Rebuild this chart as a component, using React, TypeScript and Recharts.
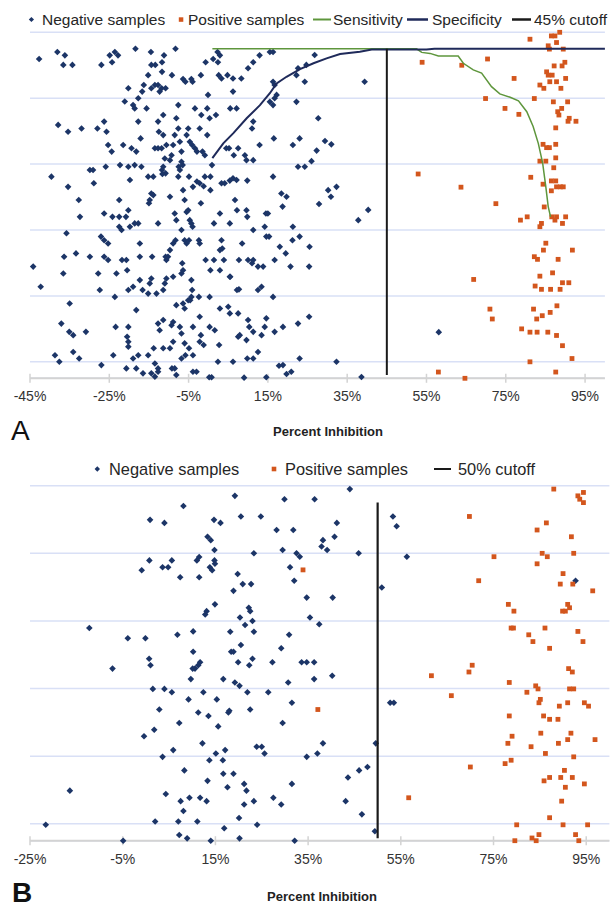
import React from 'react';
import { ScatterChart, Scatter, XAxis, YAxis, CartesianGrid } from 'recharts';

type P = [number, number];
const FONT = '"Liberation Sans", Arial, Helvetica, sans-serif';

const aTicks = [-45, -25, -5, 15, 35, 55, 75, 95];
const bTicks = [-25, -5, 15, 35, 55, 75, 95];
const gridTicks = [5, 25, 45, 65, 85, 105];

const aNegative: P[] = [
  [-42.7,96.9],[-38.1,99.0],[-36.2,98.0],[-36.6,95.1],[-34.3,95.1],[-27.0,95.1],[-24.9,98.0],[-23.6,99.0],[-22.8,98.0],[-24.3,95.9],[-18.4,100.0],[-14.5,99.0],[-14.4,95.1],[-13.4,95.1],[-11.7,95.9],[-11.2,98.0],[-8.3,100.0],[-9.2,92.0],[-15.2,92.0],[-13.5,89.0],[-14.4,88.0],[-12.7,89.0],[-11.8,88.0],[-10.8,88.0],[-12.3,87.0],[-11.7,93.0],[-16.3,89.0],[-16.7,87.0],[-20.2,88.0],[-6.4,90.8],[-5.8,90.0],[-4.3,90.8],[-4.0,90.0],[-1.9,92.0],[-0.7,95.9],[1.2,96.9],[2.4,95.9],[2.3,99.0],[2.9,98.0],[2.6,92.0],[3.3,91.0],[4.8,92.0],[6.2,91.0],[8.3,91.0],[6.2,87.0],[10.0,94.1],[11.3,95.9],[12.9,98.0],[15.5,99.0],[16.3,99.0],[16.3,90.0],[16.7,89.0],[24.3,90.0],[22.2,92.0],[22.6,94.1],[24.7,95.1],[-0.1,86.0],
  [-17.7,85.0],[-21.1,84.0],[-19.0,82.9],[-18.6,81.9],[-15.6,81.9],[-11.4,79.9],[-7.6,82.9],[-8.1,78.9],[-12.7,77.9],[-3.4,81.9],[-0.3,81.9],[0.3,78.9],[1.9,79.9],[-1.8,79.9],[5.5,81.9],[7.1,81.9],[11.3,77.9],[11.0,75.8],[15.5,83.9],[16.7,85.0],[17.2,86.0],[16.3,82.9],[22.2,83.9],
  [-37.9,76.9],[-35.4,74.8],[-32.0,75.8],[-28.0,75.8],[-26.3,77.9],[-25.7,74.8],[-25.3,70.8],[-24.4,68.8],[-21.5,70.8],[-19.4,69.8],[-18.2,68.8],[-17.7,77.9],[-17.1,72.8],[-13.5,69.8],[-12.7,69.8],[-11.8,69.8],[-12.5,74.8],[-11.4,73.8],[-10.6,70.8],[-11.0,66.7],[-9.7,66.2],[-9.3,67.7],[-8.9,70.8],[-8.5,73.8],[-7.6,75.8],[-7.2,71.8],[-6.8,68.8],[-5.5,73.8],[-5.1,75.8],[-4.7,71.8],[-4.1,70.8],[-3.4,69.8],[-2.9,68.8],[-2.2,75.8],[-0.9,67.7],[-0.3,73.8],[-1.5,68.8],[4.5,69.8],[5.2,69.8],[7.5,69.8],[9.2,67.7],[9.6,66.2],[11.3,66.2],[12.9,70.8],[16.5,72.8],[21.3,70.8],[23.0,72.8],[6.4,67.7],
  [-22.3,64.7],[-20.2,64.2],[-18.6,64.7],[-16.9,64.2],[-15.2,61.2],[-13.9,61.2],[-11.4,64.2],[-11.7,63.2],[-11.6,62.0],[-10.8,62.2],[-7.5,64.2],[-7.2,63.2],[-6.5,64.7],[-7.6,61.2],[-6.8,65.7],[-4.9,61.2],[-3.9,58.1],[-2.9,59.7],[-2.2,59.2],[-0.9,61.2],[-1.2,58.3],[0.5,61.2],[0.5,57.1],[0.9,64.7],[3.3,59.2],[4.1,59.2],[5.4,60.0],[6.2,60.7],[7.1,60.2],[9.8,60.0],[16.3,61.2],[22.6,64.2],[24.3,64.2],[-39.6,61.2],[-35.4,58.1],[-29.9,63.2],[-29.1,63.2],[-28.9,59.2],[-25.9,64.2],[-19.8,60.2],
  [-32.7,54.1],[-32.4,49.0],[-26.3,50.0],[-24.2,49.0],[-22.5,54.1],[-22.5,49.0],[-20.8,49.0],[-20.2,51.0],[-17.7,47.0],[-14.4,56.1],[-13.9,55.6],[-14.8,54.1],[-15.0,53.1],[-12.7,47.0],[-9.7,55.1],[-8.5,50.0],[-8.1,48.0],[-6.4,57.1],[-6.0,54.1],[-5.5,50.5],[-5.1,51.0],[-4.7,48.0],[-4.3,47.0],[-4.0,46.0],[-1.9,53.1],[1.4,47.0],[2.9,50.0],[5.4,47.0],[7.2,51.0],[6.7,54.1],[9.6,51.0],[9.8,49.0],[11.3,45.0],[14.5,50.0],[15.0,50.0],[14.2,46.0],[18.4,56.1],[19.7,55.1],[18.7,52.1],[21.3,46.0],
  [-35.8,44.0],[-36.4,36.9],[-33.4,37.9],[-29.9,36.9],[-27.1,43.0],[-26.3,41.9],[-25.3,40.9],[-26.3,36.9],[-25.3,35.9],[-21.8,35.9],[-20.7,35.9],[-22.5,46.0],[-21.9,45.0],[-19.8,46.0],[-18.6,47.0],[-17.3,40.9],[-17.3,36.9],[-14.2,36.9],[-10.8,36.9],[-10.6,35.9],[-10.2,36.9],[-9.7,38.9],[-8.9,40.9],[-8.3,41.9],[-6.8,45.0],[-6.0,41.9],[-5.5,40.9],[-4.9,41.9],[-2.4,41.9],[-2.2,40.9],[-0.7,35.9],[0.5,32.8],[1.4,35.9],[2.9,32.8],[3.3,41.9],[3.5,39.4],[2.9,38.9],[3.9,35.9],[5.5,30.8],[7.7,35.9],[8.5,40.9],[10.0,35.9],[11.0,34.9],[11.3,35.9],[12.5,33.9],[13.8,33.9],[14.6,43.0],[15.3,43.0],[16.7,35.9],[18.0,39.9],[19.5,37.9],[20.7,33.9],[21.2,41.9],[23.0,43.0],[-44.2,33.9],[-36.6,31.8],[25.5,39.9],[25.4,33.9],
  [-42.3,27.8],[-27.8,31.8],[-27.4,26.8],[-23.6,24.7],[-23.2,31.8],[-20.5,32.8],[-20.2,26.8],[-19.0,27.8],[-17.3,29.8],[-16.6,26.8],[-15.2,25.7],[-14.8,28.8],[-14.4,30.3],[-13.1,25.7],[-11.4,26.8],[-11.0,28.8],[-10.6,30.3],[-8.9,30.8],[-6.8,31.8],[-6.6,34.9],[-6.4,32.8],[-4.3,29.8],[-4.1,26.8],[-4.3,24.7],[-2.4,24.7],[0.3,24.7],[7.2,26.8],[7.7,27.0],[12.5,26.8],[13.4,27.8],[16.3,24.7],[5.4,30.8],
  [-35.0,22.7],[-37.1,16.6],[-35.1,14.1],[-34.1,13.1],[-30.9,14.1],[-23.4,15.6],[-20.2,15.6],[-18.2,20.7],[-12.7,16.6],[-12.3,14.6],[-11.4,17.7],[-9.3,16.1],[-8.9,17.1],[-7.2,15.6],[-6.8,13.6],[-8.1,22.2],[-6.4,22.7],[-6.0,21.2],[-5.1,23.7],[-4.6,23.7],[-3.9,15.6],[-2.2,18.7],[-1.9,13.1],[0.3,15.6],[1.6,14.6],[2.9,21.2],[5.0,21.7],[5.4,19.7],[7.5,19.7],[7.5,12.6],[7.9,13.1],[9.6,11.6],[10.0,17.7],[10.3,15.6],[11.3,14.1],[14.2,15.6],[14.6,18.2],[16.7,14.1],[18.8,15.6],[22.6,16.6],[25.4,18.7],
  [-38.7,7.0],[-37.6,5.0],[-34.1,8.0],[-32.6,6.0],[-27.0,4.0],[-24.0,7.0],[-20.5,12.6],[-20.2,11.1],[-20.2,9.6],[-19.0,6.0],[-17.7,7.0],[-15.2,7.0],[-13.8,9.1],[-13.5,4.5],[-12.7,3.0],[-11.4,9.1],[-12.7,2.0],[-8.9,11.1],[-9.7,9.1],[-9.2,3.0],[-8.5,3.0],[-8.1,1.0],[-6.8,6.0],[-6.0,10.6],[-5.8,7.0],[-4.9,9.1],[-3.9,7.0],[-3.9,2.0],[-3.0,2.0],[-2.2,11.1],[-1.2,10.1],[0.2,0.3],[0.8,0.3],[2.4,5.0],[2.7,10.1],[6.2,5.0],[9.8,6.0],[11.3,6.0],[12.5,8.0],[13.4,13.1],[14.6,0.3],[18.8,4.0],[20.9,2.0],[23.0,6.0],[-18.2,3.0],[-16.5,1.5],[-20.7,3.0],[-14.4,1.5],[-13.5,0.5],
  [26.8,98.1],[39.4,90.0],[27.7,78.9],[29.4,72.0],[31.0,71.0],[27.3,69.1],[26.0,65.9],[27.9,52.9],[30.2,57.1],[32.3,58.1],[30.9,55.1],[37.8,48.0],[40.3,51.1],[58.1,14.0],
  [38.6,0.4],[32.3,5.0],[17.8,3.8],[19.7,1.3],[9.0,0.2],
];

const aPositive: P[] = [
  [81.1,102.9],[86.5,103.9],[87.4,103.9],[88.6,105.0],[87.8,101.9],[85.7,100.9],[86.0,99.9],[89.5,99.9],[53.9,95.9],[63.9,95.0],[70.4,96.9],[77.1,91.0],[83.6,89.0],[84.6,88.0],[85.3,93.0],[85.7,92.0],[86.7,92.0],[86.1,90.0],[87.8,90.0],[87.2,94.8],[89.2,94.8],[89.9,95.9],[90.1,91.0],[88.9,88.0],[69.9,84.9],[82.2,84.9],[87.0,83.9],[90.6,83.9],[74.8,81.9],[78.3,80.1],[89.1,81.9],[88.1,80.9],[88.4,79.9],[91.0,78.9],[90.7,78.0],[92.7,78.0],[87.6,76.0],[84.4,71.0],[85.3,70.0],[86.0,70.0],[87.6,71.0],[83.6,65.9],[85.1,65.9],[87.6,66.9],[87.1,63.9],[52.9,62.0],[63.7,58.0],[72.5,53.0],[81.3,61.0],[84.4,58.9],[86.5,59.9],[87.6,59.9],[87.8,58.1],[88.8,58.1],[89.5,58.1],[86.5,56.9],[84.7,52.0],
  [80.4,49.0],[78.7,48.0],[86.6,49.0],[87.8,49.0],[90.1,49.0],[87.4,48.0],[89.3,47.0],[84.0,47.0],[83.6,46.0],[85.1,41.0],[84.5,38.9],[91.8,38.9],[82.2,36.9],[83.0,36.1],[88.2,36.1],[86.8,32.0],[66.9,30.0],[83.6,31.0],[89.3,29.0],[90.9,29.0],[82.4,28.0],[84.0,27.0],[86.3,27.0],[88.7,27.0],[71.0,21.0],[71.6,18.0],[82.0,21.0],[82.8,18.0],[84.2,19.0],[86.2,20.0],[87.9,22.0],[79.0,15.0],[81.1,14.0],[82.9,14.0],[85.6,14.0],[87.8,13.0],[89.3,9.9],[91.7,6.0],[81.1,5.0],[58.0,1.9],[64.7,0.0],[87.6,1.9],
];

const aSensitivity: P[] = [
  [1.0,100],[52.5,100],[53.8,98.9],[55.9,98.6],[58.0,97.8],[63.0,97.8],[64.3,95.6],[66.8,93.6],[68.9,92.6],[71.4,88.5],[73.5,86.3],[76.1,85.3],[78.2,84.2],[80.3,80.9],[81.9,76.4],[83.2,71.3],[84.3,65.3],[85.1,58.1],[85.7,52.1],[86.3,49.0],
];
const aSpecificity: P[] = [
  [1.0,66.8],[3.75,71.3],[6.3,74.4],[9.65,78.9],[13.0,82.9],[15.5,86.5],[17.2,89.5],[19.7,91.5],[23.1,93.8],[26.5,95.6],[29.8,97.1],[33.2,98.4],[38.2,99.1],[41.2,99.8],[55.0,99.8],[57.0,100],[100,100],
];
const aCutoff: P[] = [[45, 1], [45, 100]];

const bNegative: P[] = [
  [19.2,102.0],[29.9,101.0],[8.1,99.0],[0.9,94.9],[4.0,94.0],[14.7,94.9],[16.1,94.0],[20.5,95.9],[24.8,95.9],[28.2,91.9],[31.8,91.9],[13.3,89.9],[14.0,88.9],[14.8,86.0],[23.3,85.0],[29.5,86.0],[32.5,85.0],[33.2,84.0],[31.1,80.9],[32.0,76.9],[0.75,82.9],[-0.9,80.0],[3.6,80.9],[4.8,80.9],[5.6,82.9],[7.4,77.9],[11.0,82.9],[11.5,83.9],[11.5,77.9],[14.8,82.9],[14.9,81.9],[13.8,80.9],[14.3,80.0],[19.8,78.9],[20.9,75.9],[22.7,75.9],[18.9,73.9],[14.9,69.9],[13.1,67.9],[12.8,66.9],[20.3,66.0],[21.4,63.8],[22.2,68.9],[22.5,67.9],[23.0,65.0],[23.3,61.8],[18.2,61.8],[20.5,57.9],[18.4,55.9],[18.9,55.9],[19.9,52.8],[23.0,53.8],[22.3,51.9],[27.3,52.8],[29.2,56.9],[30.9,60.9],[34.7,71.9],[35.4,66.0],[33.6,52.8],[34.7,52.8],[30.7,46.8],[31.5,40.8],[29.5,34.8],[6.8,60.9],[10.2,61.9],[10.2,55.9],[11.7,52.8],[11.3,51.9],[10.6,50.9],[10.1,50.9],[9.7,47.8],[0.7,53.8],[1.0,51.9],[-3.9,59.9],[-0.1,59.9],[-7.2,50.9],[-12.2,62.9],[1.5,44.9],[4.0,44.9],[5.6,43.9],[9.2,41.8],[12.4,43.9],[15.3,41.8],[16.7,47.8],[19.2,46.8],[20.2,45.8],[21.9,43.9],[26.4,43.9],[2.9,38.8],[7.2,34.8],[11.3,37.9],[13.5,36.9],[15.6,33.8],[17.8,37.9],[18.0,38.4],[22.5,38.8],[1.8,32.8],[-0.4,30.9],[12.2,28.8],[5.9,26.8],[3.6,24.8],[15.1,25.8],[17.1,26.8],[13.7,23.8],[16.6,23.8],[8.3,20.8],[13.3,17.7],[16.7,19.8],[18.9,19.8],[21.2,16.8],[21.7,14.8],[17.6,15.8],[4.3,13.8],[7.5,11.7],[9.4,12.7],[11.7,12.7],[13.1,11.7],[8.1,8.8],[21.2,10.7],[23.3,11.7],[27.5,12.7],[29.2,10.7],[31.5,16.8],[34.7,24.8],[-16.4,14.8],[2.0,5.7],[7.0,5.7],[11.1,5.7],[20.1,6.7],[24.0,4.7],[16.9,3.7],[-21.6,4.7],[-4.9,0],[7.2,1.7],[8.9,0.7],[14.0,0],[20.2,0.7],[32.1,0],[23.9,27.8],[25.0,27.8],[25.6,25.8],
  [44.0,104.0],[36.4,101.0],[41.2,94.0],[40.7,89.9],[38.2,88.9],[37.9,87.0],[39.1,86.0],[45.9,85.0],[53.3,95.9],[54.1,93.0],[56.3,84.0],[50.9,74.9],[40.3,71.9],[37.4,64.0],[36.3,52.8],[36.3,47.8],[40.2,48.8],[52.7,40.8],[53.5,40.8],[49.6,28.8],[38.2,28.8],[37.0,25.8],[47.8,21.8],[46.0,20.8],[43.6,18.7],[43.1,11.7],[46.6,7.8],[49.4,2.8],[92.7,76.9],
];

const bPositive: P[] = [
  [88.0,104.0],[93.2,102.0],[94.4,103.0],[93.6,101.0],[94.4,100.0],[69.8,95.9],[86.4,94.0],[84.4,91.9],[91.8,89.9],[85.5,85.0],[86.6,84.0],[92.3,85.0],[75.1,84.0],[84.4,81.9],[90.0,79.0],[89.4,75.9],[92.1,75.9],[96.4,73.9],[71.8,76.9],[78.2,69.9],[79.4,67.9],[91.0,69.9],[91.4,68.9],[89.9,67.9],[90.5,67.9],[78.8,62.9],[79.3,62.9],[86.1,62.9],[82.6,60.9],[83.5,58.9],[87.1,56.9],[93.2,61.9],[94.3,58.9],[70.4,51.9],[69.7,49.9],[61.6,48.8],[78.4,46.8],[91.2,50.9],[92.0,49.9],[84.1,45.8],[84.6,44.9],[82.2,43.9],[91.4,44.9],[92.3,44.9],[65.9,42.9],[85.1,41.8],[84.8,40.8],[91.0,40.8],[89.2,39.8],[94.6,40.8],[95.5,39.8],[78.4,36.9],[85.8,36.9],[87.1,35.9],[88.9,35.9],[37.1,38.8],[85.2,31.8],[91.7,31.8],[79.0,30.9],[78.1,28.8],[83.1,27.8],[89.0,28.8],[91.0,29.9],[96.9,29.9],[86.2,25.8],[92.3,24.8],[78.8,23.8],[77.5,22.8],[70.0,21.8],[90.3,20.8],[87.1,18.7],[85.9,17.7],[89.5,18.7],[92.0,18.7],[94.6,16.8],[90.5,15.8],[56.7,12.7],[89.7,11.7],[87.1,6.8],[80.0,4.7],[90.0,4.7],[95.3,4.7],[84.8,1.8],[83.3,0.8],[84.2,0],[92.7,1.8],[93.4,0],[79.6,0],[33.9,80.1],
];
const bCutoff: P[] = [[50, 0.7], [50, 100]];

const NAVY = '#1c3567';
const ORANGE = '#d3561d';
const GREEN = '#5e963c';
const SPEC = '#1f2a5a';
const BLACK = '#1a1a1a';
const GRID = '#d9e0f6';
const AXIS = '#d3d3d3';

const pts = (a: P[]) => a.map(([x, y]) => ({ x, y }));

const Diamond = (props: any) => {
  const { cx, cy } = props;
  if (cx == null || cy == null) return <g />;
  const r = 3.3;
  return <path d={`M${cx},${cy - r}L${cx + r},${cy}L${cx},${cy + r}L${cx - r},${cy}Z`} fill={NAVY} />;
};
const Square = (props: any) => {
  const { cx, cy } = props;
  if (cx == null || cy == null) return <g />;
  const s = 4.8;
  return <rect x={cx - s / 2} y={cy - s / 2} width={s} height={s} fill={ORANGE} />;
};
const NoDot = () => <g />;

const AxisTick = (props: any) => {
  const { x, y, payload } = props;
  return (
    <g>
      <line x1={x} x2={x} y1={y - 4.5} y2={y + 4.5} stroke={AXIS} strokeWidth={1.5} />
      <text x={x} y={y + 23} textAnchor="middle" fontSize={14} fontFamily={FONT} fill="#333">{`${payload.value}%`}</text>
    </g>
  );
};

const W = 613;
const H = 907;

function Panel(props: {
  domain: [number, number]; ticks: number[]; top: number; axisY: number; right: number;
  neg: P[]; pos: P[]; lines: { data: P[]; color: string; width: number }[];
}) {
  const xh = 30;
  const abs: React.CSSProperties = { position: 'absolute', left: 0, top: 0 };
  return (
    <>
      <div style={abs}>
        <ScatterChart width={W} height={H} margin={{ top: props.top, right: W - props.right, bottom: H - props.axisY - xh, left: 30 }}>
          <CartesianGrid vertical={false} horizontal stroke={GRID} strokeWidth={1.5} />
          <XAxis type="number" dataKey="x" domain={props.domain} ticks={props.ticks} interval={0}
            tick={AxisTick} tickLine={false} tickSize={0} tickMargin={0} height={xh}
            axisLine={{ stroke: AXIS, strokeWidth: 2 }} />
          <YAxis type="number" dataKey="y" domain={[0, 105]} ticks={gridTicks} hide width={0} />
          <Scatter data={pts(props.neg)} fill="none" shape={NoDot} isAnimationActive={false} />
        </ScatterChart>
      </div>
      <div style={abs}>
        <ScatterChart width={W} height={H} margin={{ top: props.top, right: W - props.right, bottom: H - props.axisY, left: 30 }}>
          <XAxis type="number" dataKey="x" domain={props.domain} ticks={props.ticks} hide height={0} />
          <YAxis type="number" dataKey="y" domain={[0, 105]} ticks={gridTicks} hide width={0} />
          <Scatter data={pts(props.neg)} fill={NAVY} shape={Diamond} isAnimationActive={false} />
          <Scatter data={pts(props.pos)} fill={ORANGE} shape={Square} isAnimationActive={false} />
          {props.lines.map((l, i) => (
            <Scatter key={i} data={pts(l.data)} fill={l.color} line={{ stroke: l.color, strokeWidth: l.width }}
              shape={NoDot} isAnimationActive={false} />
          ))}
        </ScatterChart>
      </div>
    </>
  );
}

export default function App() {
  const legendA = 15.5;
  const legendB = 16.4;
  return (
    <div style={{ position: 'absolute', left: 0, top: 0, width: W, height: H, background: '#fff', overflow: 'hidden' }}>
      <Panel domain={[-45, 100]} ticks={aTicks} top={32.3} axisY={378.3} right={604.9}
        neg={aNegative} pos={aPositive}
        lines={[
          { data: aSensitivity, color: GREEN, width: 1.5 },
          { data: aSpecificity, color: SPEC, width: 2 },
          { data: aCutoff, color: BLACK, width: 2 },
        ]} />
      <Panel domain={[-25, 100]} ticks={bTicks} top={485.7} axisY={840.7} right={609.4}
        neg={bNegative} pos={bPositive}
        lines={[{ data: bCutoff, color: BLACK, width: 2.2 }]} />
      <svg width={W} height={H} style={{ position: 'absolute', left: 0, top: 0, pointerEvents: 'none' }} fontFamily={FONT}>
        <g fontSize={legendA} fill="#262626">
          <path d="M31.4,16.9L34,19.5L31.4,22.1L28.8,19.5Z" fill={NAVY} />
          <text x={42} y={25}>Negative samples</text>
          <rect x={178.8} y={17.3} width={4.5} height={4.5} fill={ORANGE} />
          <text x={188} y={25}>Positive samples</text>
          <line x1={313} x2={331} y1={19.5} y2={19.5} stroke={GREEN} strokeWidth={2} />
          <text x={333} y={25}>Sensitivity</text>
          <line x1={407} x2={428} y1={19.5} y2={19.5} stroke={SPEC} strokeWidth={2.5} />
          <text x={432} y={25}>Specificity</text>
          <line x1={512} x2={531} y1={19.5} y2={19.5} stroke={BLACK} strokeWidth={2.5} />
          <text x={534} y={25}>45% cutoff</text>
        </g>
        <text x={11} y={440} fontSize={28} fill="#111">A</text>
        <text x={328} y={436} fontSize={13} fontWeight="bold" textAnchor="middle" fill="#222">Percent Inhibition</text>
        <g fontSize={legendB} fill="#262626">
          <path d="M97.3,466.3L100,469L97.3,471.7L94.6,469Z" fill={NAVY} />
          <text x={109} y={475}>Negative samples</text>
          <rect x={271.7} y={466.7} width={4.6} height={4.6} fill={ORANGE} />
          <text x={285} y={475}>Positive samples</text>
          <line x1={434} x2={451} y1={469} y2={469} stroke={BLACK} strokeWidth={2} />
          <text x={458} y={475}>50% cutoff</text>
        </g>
        <text x={12} y={902} fontSize={28} fontWeight="bold" fill="#111">B</text>
        <text x={322} y={901} fontSize={13} fontWeight="bold" textAnchor="middle" fill="#222">Percent Inhibition</text>
      </svg>
    </div>
  );
}
